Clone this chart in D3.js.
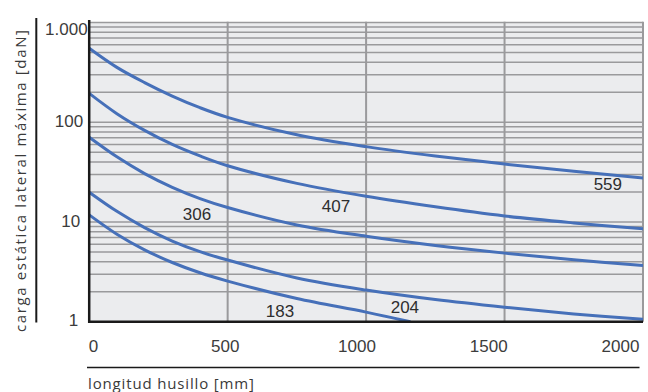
<!DOCTYPE html>
<html>
<head>
<meta charset="utf-8">
<script src="https://cdn.jsdelivr.net/npm/d3@7"></script>
<style>
  html, body { margin: 0; padding: 0; background: #fff; }
  svg { display: block; }
</style>
</head>
<body>
<svg id="chart" width="648" height="392"></svg>
<script>
// Spindle length [mm] at which each curve is sampled
const lengths = [0, 100, 200, 300, 400, 500, 750, 1000, 1250, 1500, 1750, 2000];
const lengths183 = [0, 100, 200, 300, 400, 500, 750, 1000, 1160];

// Maximum static lateral load [daN] per spindle type
const load559 = [552, 355, 250, 183, 140, 112, 75, 57, 45.9, 38.1, 32.2, 27.7];
const load407 = [195, 122, 83, 60, 46, 36.7, 24.4, 18.1, 14.2, 11.5, 9.8, 8.55];
const load306 = [70.7, 45, 30.6, 22.3, 17.2, 14, 9.35, 7.21, 5.83, 4.88, 4.18, 3.66];
const load204 = [19.9, 12.8, 8.8, 6.45, 5.05, 4.16, 2.75, 2.08, 1.67, 1.40, 1.20, 1.06];
const load183 = [11.8, 7.55, 5.26, 3.93, 3.1, 2.56, 1.71, 1.25, 1.0];

// Curve names and where each name is written (length, load)
const seriesNames = ["559", "407", "306", "204", "183"];
const labelLength = [1873, 891, 389, 1140, 689];
const labelLoad = [20.9, 12.65, 10.45, 1.214, 1.127];

// Axis ticks
const xTicks = [0, 500, 1000, 1500, 2000];
const yTicks = [1, 10, 100, 1000];
const yTickLabels = ["1", "10", "100", "1.000"];
const xTitle = "longitud husillo [mm]";
const yTitle = "carga estática lateral máxima [daN]";

const svg = d3.select("#chart");
const plot = { left: 89.2, right: 643, top: 22.5, bottom: 321.8 };

const x = d3.scaleLinear().domain([0, 2000]).range([plot.left, plot.right]);
const y = d3.scaleLog().domain([1, 1000]).range([plot.bottom, plot.top]);

// plot background
svg.append("rect")
  .attr("x", plot.left).attr("y", plot.top)
  .attr("width", plot.right - plot.left).attr("height", plot.bottom - plot.top)
  .attr("fill", "#ebecee");

// horizontal log grid (1..9 within each decade)
const minor = [];
for (let p = 1; p <= 100; p *= 10) for (let k = 1; k <= 9; k++) minor.push(k * p);
minor.push(1000);
svg.append("g").selectAll("line").data(minor.filter(v => v > 1)).join("line")
  .attr("x1", plot.left).attr("x2", plot.right)
  .attr("y1", d => y(d)).attr("y2", d => y(d))
  .attr("stroke", "#9a9a9c").attr("stroke-width", 1.5);

// vertical grid
svg.append("g").selectAll("line").data(xTicks.filter(v => v > 0)).join("line")
  .attr("x1", d => x(d)).attr("x2", d => x(d))
  .attr("y1", plot.top - 0.75).attr("y2", plot.bottom)
  .attr("stroke", "#9a9a9c").attr("stroke-width", 2);

// curves
svg.append("defs").append("clipPath").attr("id", "clip")
  .append("rect").attr("x", plot.left).attr("y", plot.top)
  .attr("width", plot.right - plot.left).attr("height", plot.bottom - plot.top);

const series = [
  { xs: lengths, ys: load559 },
  { xs: lengths, ys: load407 },
  { xs: lengths, ys: load306 },
  { xs: lengths, ys: load204 },
  { xs: lengths183, ys: load183 }
];
const line = d3.line()
  .x(d => x(d[0])).y(d => y(d[1]))
  .curve(d3.curveCatmullRom.alpha(0.5));
svg.append("g").attr("clip-path", "url(#clip)")
  .selectAll("path").data(series).join("path")
  .attr("d", s => line(s.xs.map((v, i) => [v, s.ys[i]])))
  .attr("fill", "none")
  .attr("stroke", "#4670b9")
  .attr("stroke-width", 3)
  .attr("stroke-linecap", "butt");

// axis lines
svg.append("line")
  .attr("x1", plot.left).attr("x2", plot.left)
  .attr("y1", plot.top - 2.5).attr("y2", plot.bottom + 1.3)
  .attr("stroke", "#1a1a1a").attr("stroke-width", 2.5);
svg.append("line")
  .attr("x1", plot.left - 1.2).attr("x2", plot.right)
  .attr("y1", plot.bottom).attr("y2", plot.bottom)
  .attr("stroke", "#1a1a1a").attr("stroke-width", 2.5);

// curve names
svg.append("g").selectAll("text").data(seriesNames).join("text")
  .attr("x", (d, i) => x(labelLength[i]))
  .attr("y", (d, i) => y(labelLoad[i]))
  .attr("text-anchor", "middle")
  .attr("font-family", "'Liberation Sans Narrow', 'Arial Narrow', 'Liberation Sans', sans-serif")
  .attr("font-size", 17)
  .attr("fill", "#2e2e2e")
  .text(d => d);

// y tick labels
const yDx = { 1: -11, 10: -9, 100: -6, 1000: -1.6 };
const yDy = { 1: 4.3, 10: 5, 100: 4.5, 1000: 12.5 };
svg.append("g").selectAll("text").data(yTicks).join("text")
  .attr("x", d => plot.left + yDx[d])
  .attr("y", d => y(d) + yDy[d])
  .attr("text-anchor", "end")
  .attr("font-family", "'Liberation Sans', Arial, sans-serif")
  .attr("font-size", 17)
  .attr("fill", "#3c3c3c")
  .text((d, i) => yTickLabels[i]);

// x tick labels sit on an evenly spread row under the grid
const xl = d3.scaleLinear().domain([0, 2000]).range([x(0) + 4.3, x(2000) - 22.5]);
svg.append("g").selectAll("text").data(xTicks).join("text")
  .attr("x", d => xl(d))
  .attr("y", 351.6)
  .attr("text-anchor", "middle")
  .attr("font-family", "'Liberation Sans', Arial, sans-serif")
  .attr("font-size", 17)
  .attr("fill", "#3c3c3c")
  .text(d => d);

// y title with its rule
svg.append("line")
  .attr("x1", 36.3).attr("x2", 36.3).attr("y1", 18).attr("y2", 322.5)
  .attr("stroke", "#1a1a1a").attr("stroke-width", 2);
svg.append("text")
  .attr("transform", "translate(26,332) rotate(-90)")
  .attr("font-family", "'Open Sans', 'Noto Sans', sans-serif")
  .attr("font-size", 15)
  .attr("fill", "#3a3a3a")
  .attr("textLength", 302)
  .attr("lengthAdjust", "spacing")
  .text(yTitle);

// x title with its rule
svg.append("line")
  .attr("x1", 87).attr("x2", 639.5).attr("y1", 367.6).attr("y2", 367.6)
  .attr("stroke", "#1a1a1a").attr("stroke-width", 1.5);
svg.append("text")
  .attr("x", 88).attr("y", 388.5)
  .attr("font-family", "'Open Sans', 'Noto Sans', sans-serif")
  .attr("font-size", 15)
  .attr("fill", "#3a3a3a")
  .attr("textLength", 166)
  .attr("lengthAdjust", "spacing")
  .text(xTitle);
</script>
</body>
</html>
